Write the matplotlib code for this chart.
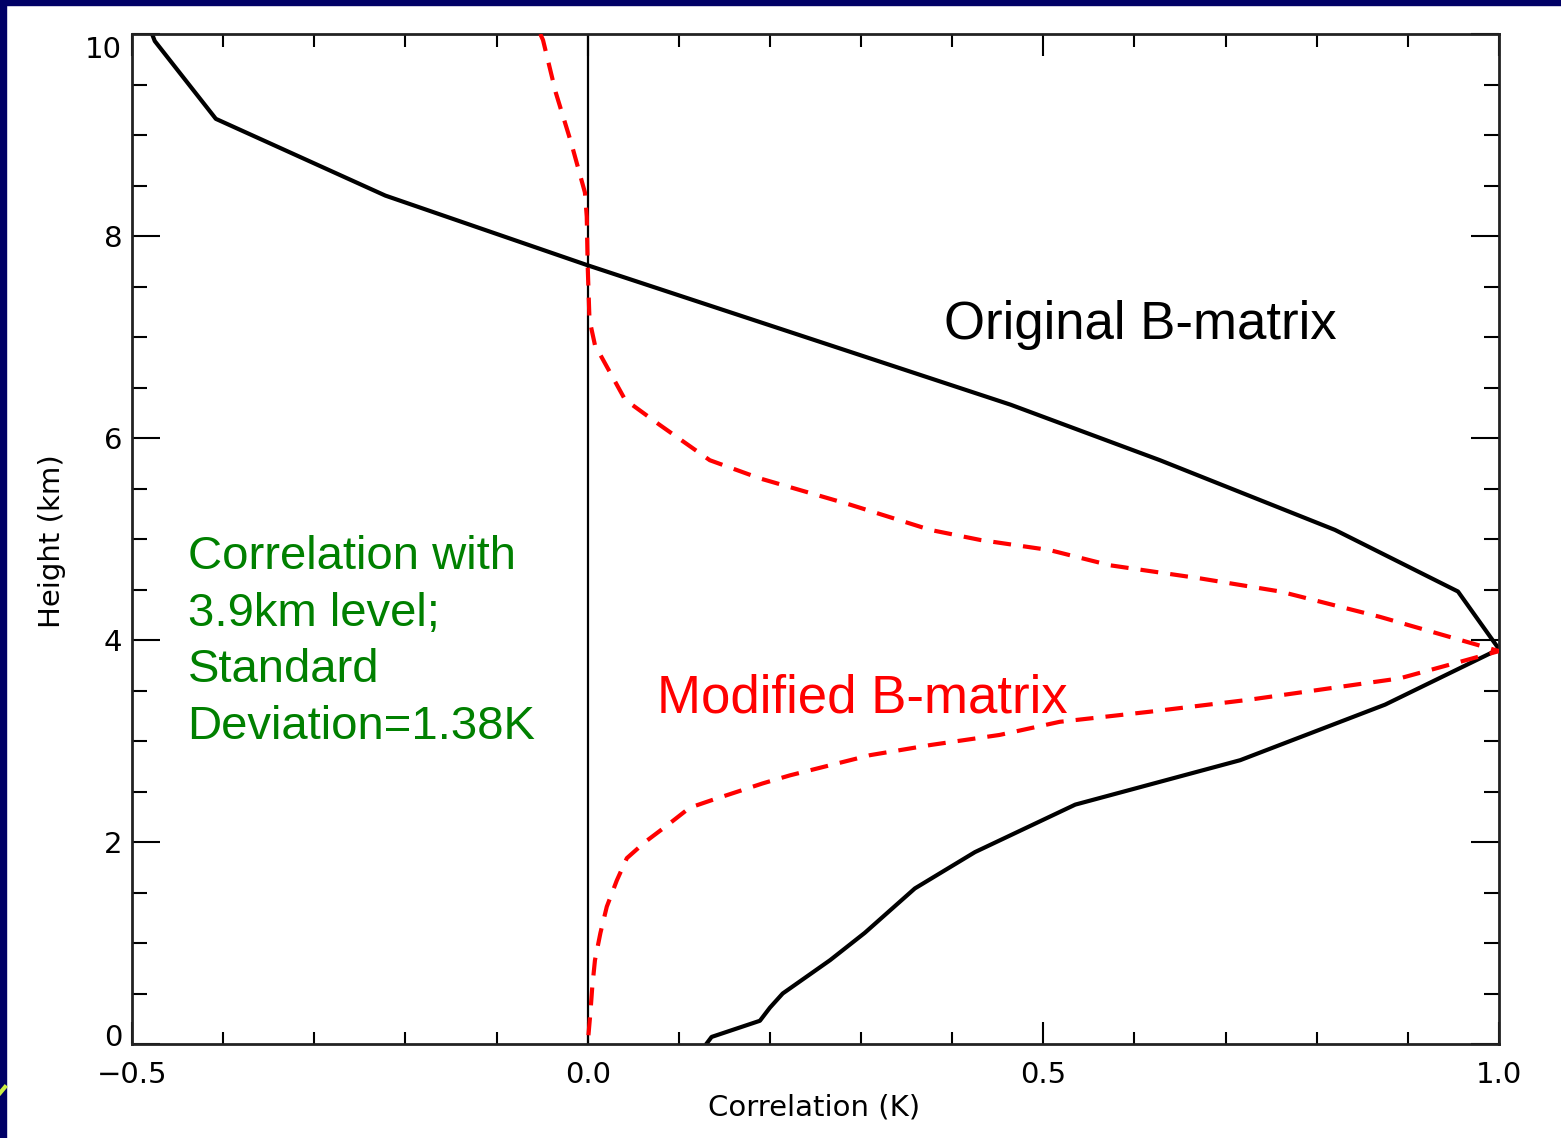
import matplotlib.pyplot as plt
import matplotlib.transforms as mtransforms
from matplotlib.ticker import MultipleLocator, FixedFormatter, FixedLocator
from matplotlib.lines import Line2D

# Original B-matrix correlation profile (solid black)
orig_corr = [-0.478, -0.475, -0.408, -0.222, 0.0, 0.464, 0.628, 0.820, 0.955, 1.0,
             0.875, 0.716, 0.535, 0.425, 0.359, 0.304, 0.266, 0.214, 0.200, 0.189,
             0.136, 0.131]
orig_height = [10.0, 9.93, 9.16, 8.40, 7.71, 6.33, 5.78, 5.09, 4.48, 3.91,
               3.36, 2.81, 2.37, 1.90, 1.54, 1.10, 0.83, 0.50, 0.36, 0.23,
               0.07, 0.01]

# Modified B-matrix correlation profile (dashed red)
mod_corr = [-0.052, -0.049, -0.035, -0.018, -0.003, -0.001, 0.0, 0.002, 0.008, 0.041,
            0.079, 0.134, 0.189, 0.288, 0.376, 0.431, 0.507, 0.573, 0.672, 0.760,
            0.869, 1.0, 0.891, 0.727, 0.617, 0.518, 0.452, 0.376, 0.310, 0.222,
            0.192, 0.138, 0.112, 0.088, 0.063, 0.043, 0.032, 0.021, 0.014, 0.008,
            0.005, 0.003, 0.0]
mod_height = [10.0, 9.94, 9.42, 8.92, 8.43, 8.19, 7.71, 7.17, 6.92, 6.38,
              6.13, 5.78, 5.60, 5.34, 5.09, 4.99, 4.89, 4.74, 4.61, 4.48,
              4.23, 3.89, 3.62, 3.41, 3.29, 3.19, 3.06, 2.96, 2.86, 2.66,
              2.58, 2.42, 2.34, 2.17, 2.00, 1.84, 1.62, 1.36, 1.10, 0.83,
              0.56, 0.31, 0.0]

x_ticks = [-0.5, 0.0, 0.5, 1.0]
x_tick_labels = ['\u22120.5', '0.0', '0.5', '1.0']
y_ticks = [0, 2, 4, 6, 8, 10]
y_tick_labels = ['0', '2', '4', '6', '8', '10']

fig = plt.figure(figsize=(15.61, 11.38), dpi=100)
fig.patch.set_facecolor('white')

# slide frame (navy strips at top and left)
fig.add_artist(plt.Rectangle((0, 1 - 5 / 1138), 1, 5 / 1138, transform=fig.transFigure,
                             color='#000066', zorder=0))
fig.add_artist(plt.Rectangle((0, 0), 6 / 1561, 1, transform=fig.transFigure,
                             color='#000066', zorder=0))
fig.add_artist(Line2D([0, 5 / 1561], [1 - 1093 / 1138, 1 - 1087 / 1138],
                      transform=fig.transFigure, color='#ccee44', lw=3))

ax = fig.add_axes([132 / 1561, 94 / 1138, 1367 / 1561, 1010 / 1138])

ax.axvline(0.0, color='black', lw=1.6, zorder=1)
ax.plot(orig_corr, orig_height, color='black', lw=3.0, zorder=2)
ax.plot(mod_corr, mod_height, color='#ff0000', lw=3.0, linestyle=(0, (4.3, 2.9)), zorder=3)

ax.set_xlim(-0.5, 1.0)
ax.set_ylim(0, 10)

ax.xaxis.set_major_locator(FixedLocator(x_ticks))
ax.xaxis.set_major_formatter(FixedFormatter(x_tick_labels))
ax.xaxis.set_minor_locator(MultipleLocator(0.1))
ax.yaxis.set_major_locator(FixedLocator(y_ticks))
ax.yaxis.set_major_formatter(FixedFormatter(y_tick_labels))
ax.yaxis.set_minor_locator(MultipleLocator(0.5))

ax.tick_params(axis='both', which='both', direction='in', top=True, right=True,
               width=1.5, colors='black', labelsize=21)
ax.tick_params(axis='x', which='major', length=16, pad=12)
ax.tick_params(axis='x', which='minor', length=9)
ax.tick_params(axis='y', which='major', length=20, pad=7)
ax.tick_params(axis='y', which='minor', length=11)

# end labels sit slightly inside the axis range, as in the original
yticks = ax.yaxis.get_major_ticks()
shift_down = mtransforms.ScaledTranslation(0, -13 / 100, fig.dpi_scale_trans)
shift_up = mtransforms.ScaledTranslation(0, 9 / 100, fig.dpi_scale_trans)
yticks[-1].label1.set_transform(yticks[-1].label1.get_transform() + shift_down)
yticks[0].label1.set_transform(yticks[0].label1.get_transform() + shift_up)

for s in ax.spines.values():
    s.set_linewidth(2.0)
    s.set_color('#222222')

ax.set_xlabel('Correlation (K)', fontsize=21)
ax.xaxis.label.set_va('center')
ax.xaxis.set_label_coords(0.499, -0.0624)
ax.set_ylabel('Height (km)', fontsize=21)
ax.yaxis.label.set_va('center')
ax.yaxis.set_label_coords(-0.0585, 0.498)

ax.text(0.391, 7.12, 'Original B-matrix', fontsize=38, family='Liberation Sans',
        color='black', va='center', ha='left')
ax.text(0.076, 3.42, 'Modified B-matrix', fontsize=38, family='Liberation Sans',
        color='#ff0000', va='center', ha='left')
ax.text(-0.439, 3.98, 'Correlation with\n3.9km level;\nStandard\nDeviation=1.38K',
        fontsize=34, family='Liberation Sans', color='#008000', va='center', ha='left',
        linespacing=1.37)

fig.savefig('out.png', dpi=100, facecolor='white')
